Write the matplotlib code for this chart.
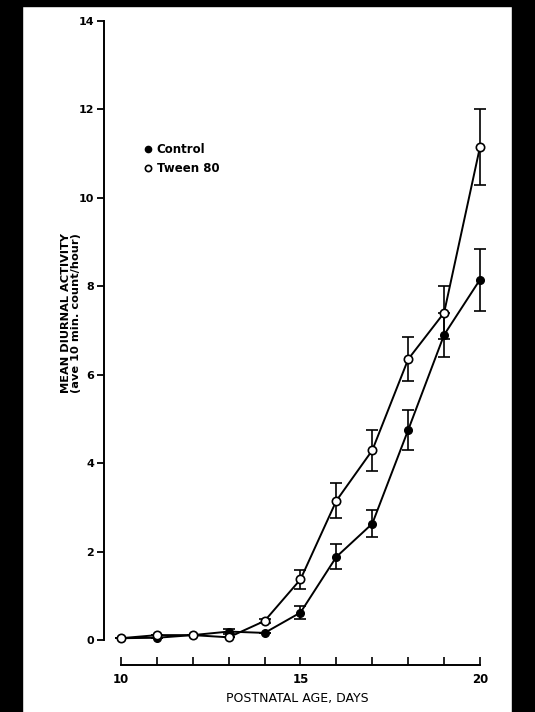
'''mean diurnal activity vs postnatal age'''
import numpy as np
import matplotlib
matplotlib.use("Agg")
import matplotlib.pyplot as plt
from matplotlib.patches import Rectangle
from matplotlib.lines import Line2D

days = [10, 11, 12, 13, 14, 15, 16, 17, 18, 19, 20]
control = [0.04, 0.05, 0.11, 0.19, 0.16, 0.62, 1.88, 2.63, 4.75, 6.9, 8.15]
control_err = [0, 0, 0, 0.05, 0, 0.15, 0.28, 0.3, 0.45, 0.5, 0.7]
tween = [0.04, 0.11, 0.11, 0.06, 0.43, 1.37, 3.15, 4.29, 6.35, 7.4, 11.15]
tween_err = [0, 0, 0, 0, 0.05, 0.22, 0.4, 0.46, 0.5, 0.6, 0.85]
x_labels = {10: "10", 15: "15", 20: "20"}
y_ticks = [0, 2, 4, 6, 8, 10, 12, 14]

plt.rcParams['font.family'] = ['DejaVu Sans']

fig = plt.figure(figsize=(5.35, 7.12), dpi=100)
W, H = 535, 712

# black scan borders
for (x0, y0, w, h) in [(0, 0, 22, 712), (512, 0, 23, 712), (0, 706, 535, 6)]:
    fig.patches.append(Rectangle((x0 / W, y0 / H), w / W, h / H,
                                 transform=fig.transFigure, color='black', zorder=0))

ax = fig.add_axes([104 / W, 47 / H, (490 - 104) / W, (691 - 47) / H])
ax.patch.set_alpha(0)

ax.errorbar(days, control, yerr=control_err, color='black', lw=1.4,
            marker='o', ms=5.5, mfc='black', mec='black', capsize=4, elinewidth=1.2,
            capthick=1.2, zorder=3)
ax.errorbar(days, tween, yerr=tween_err, color='black', lw=1.4,
            marker='o', ms=6, mfc='white', mec='black', mew=1.2, capsize=4,
            elinewidth=1.2, capthick=1.2, zorder=4)

ax.set_xlim(9.527, 20.279)
ax.set_ylim(-0.566, 14)

for s in ['top', 'right']:
    ax.spines[s].set_visible(False)
ax.spines['left'].set_bounds(0, 14)
ax.spines['bottom'].set_bounds(10, 20)
ax.spines['left'].set_linewidth(1.4)
ax.spines['bottom'].set_linewidth(1.4)

ax.set_yticks(y_ticks)
ax.set_yticklabels([str(v) for v in y_ticks], fontsize=8, fontweight='bold')
ax.tick_params(axis='y', direction='out', length=5, width=1.3, pad=2)

ax.set_xticks(days)
ax.set_xticklabels([x_labels.get(d, "") for d in days], fontsize=8.5, fontweight='bold')
ax.tick_params(axis='x', direction='in', length=6, width=1.2, pad=6)

ax.set_ylabel("MEAN DIURNAL ACTIVITY\n(ave 10 min. count/hour)", fontsize=8.2,
              fontweight='bold', linespacing=1.0)
ax.yaxis.set_label_coords(-0.06, 0.547)
ax.set_xlabel("POSTNATAL AGE, DAYS", fontsize=9, fontweight='normal', labelpad=4)

handles = [Line2D([], [], ls='none', marker='o', ms=4.5, mfc='black', mec='black'),
           Line2D([], [], ls='none', marker='o', ms=4.5, mfc='white', mec='black', mew=1.2)]
ax.legend(handles, ['Control', 'Tween 80'], loc='upper left',
          bbox_to_anchor=(139 / W, 1 - 137 / H), bbox_transform=fig.transFigure,
          frameon=False, prop={'size': 8.5, 'weight': 'bold'}, handlelength=0.6,
          handletextpad=0.4, labelspacing=0.55, borderpad=0)

fig.savefig("out.png", dpi=100)
